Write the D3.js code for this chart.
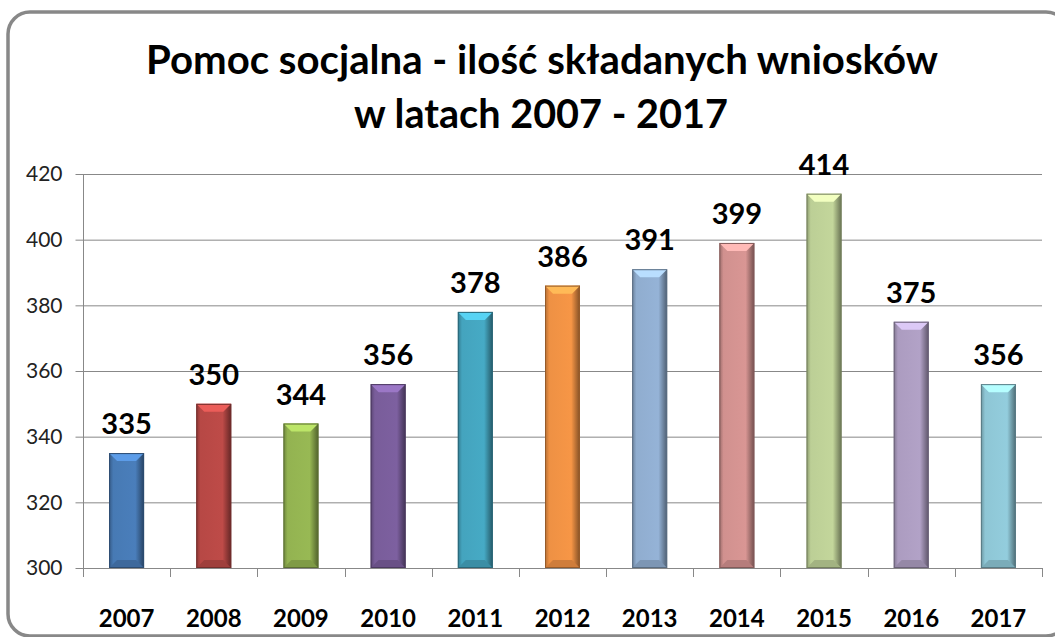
<!DOCTYPE html>
<html><head><meta charset="utf-8">
<script src="https://cdn.jsdelivr.net/npm/d3@7"></script>
<style>body{margin:0;background:#fff}svg{display:block}</style>
</head><body>
<svg id="c" width="1055" height="637"></svg>
<script>
const categories = ["2007","2008","2009","2010","2011","2012","2013","2014","2015","2016","2017"];
const values = [335,350,344,356,378,386,391,399,414,375,356];
const colors = ["#4a7ebb","#be4b48","#98b954","#7d60a0","#46aac5","#f79646","#95b3d7","#d99694","#c3d69b","#b2a2c7","#93cddd"];
const yTicks = [300,320,340,360,380,400,420];
const titleLines = ["Pomoc socjalna - ilość składanych wniosków","w latach 2007 - 2017"];

const svg = d3.select("#c");
const font = "Lato, 'Open Sans', sans-serif";
const m = {left:83, right:1042, top:174, bottom:568};

svg.append("rect").attr("x",8).attr("y",12).attr("width",1060).attr("height",624)
  .attr("rx",22).attr("fill","#fff").attr("stroke","#888").attr("stroke-width",3.5);

const x = d3.scaleBand().domain(categories).range([m.left,m.right]).paddingInner(0).paddingOuter(0);
const y = d3.scaleLinear().domain([300,420]).range([m.bottom,m.top]);

// title
svg.append("text").attr("x",542).attr("y",74).attr("text-anchor","middle")
  .attr("font-family",font).attr("font-weight","bold").attr("font-size",41).attr("fill","#000")
  .attr("textLength",792).attr("lengthAdjust","spacingAndGlyphs").text(titleLines[0]);
svg.append("text").attr("x",541).attr("y",128).attr("text-anchor","middle")
  .attr("font-family",font).attr("font-weight","bold").attr("font-size",41).attr("fill","#000")
  .attr("textLength",374).attr("lengthAdjust","spacingAndGlyphs").text(titleLines[1]);

// gridlines
svg.append("g").selectAll("line").data(yTicks.filter(d=>d>300)).join("line")
  .attr("x1",m.left).attr("x2",m.right).attr("y1",d=>y(d)+0.5).attr("y2",d=>y(d)+0.5)
  .attr("stroke","#888").attr("stroke-width",1);

// y axis
const ya = svg.append("g").attr("transform",`translate(${m.left+0.5},0)`)
  .call(d3.axisLeft(y).tickValues(yTicks).tickSize(8).tickPadding(13));
ya.select(".domain").attr("stroke","#888").attr("d",`M0,${m.top}V${m.bottom+8}`);
ya.selectAll(".tick line").attr("stroke","#888");
ya.selectAll("text").attr("font-family",font).attr("font-size",21).attr("fill","#222");

// x axis
const xa = svg.append("g").attr("transform",`translate(0,${m.bottom+0.5})`)
  .call(d3.axisBottom(x).tickSize(0).tickPadding(41));
xa.select(".domain").attr("stroke","#888").attr("d",`M${m.left},0H${m.right}`);
xa.selectAll("text").attr("font-family",font).attr("font-weight","bold").attr("font-size",24).attr("fill","#000");
svg.append("g").selectAll("line").data(d3.range(categories.length+1)).join("line")
  .attr("x1",i=>Math.round(m.left+i*x.step())+0.5).attr("x2",i=>Math.round(m.left+i*x.step())+0.5)
  .attr("y1",m.bottom).attr("y2",m.bottom+9).attr("stroke","#888");

// gradients
const defs = svg.append("defs");
colors.forEach((c,i)=>{
  const g = defs.append("linearGradient").attr("id","g"+i).attr("x1",0).attr("x2",1).attr("y1",0).attr("y2",0);
  const base = d3.color(c);
  g.append("stop").attr("offset","0%").attr("stop-color",base.darker(0.9));
  g.append("stop").attr("offset","12%").attr("stop-color",base.darker(0.1));
  g.append("stop").attr("offset","75%").attr("stop-color",base);
  g.append("stop").attr("offset","88%").attr("stop-color",base.darker(0.8));
  g.append("stop").attr("offset","100%").attr("stop-color",base.darker(1.8));
});

const bw = 35;
const bars = svg.append("g").selectAll("g").data(categories).join("g");
bars.each(function(cat,i){
  const g = d3.select(this);
  const cx = x(cat)+x.bandwidth()/2;
  const x0 = cx-bw/2, x1 = cx+bw/2, yt = y(values[i]), yb = y(300);
  const base = d3.color(colors[i]);
  g.append("rect").attr("x",x0).attr("y",yt).attr("width",bw).attr("height",yb-yt)
    .attr("fill",`url(#g${i})`);
  const b = 8;
  g.append("path").attr("d",`M${x0},${yt}H${x1}L${x1-b},${yt+b}H${x0+b}Z`).attr("fill",base.brighter(0.6));
  g.append("path").attr("d",`M${x0},${yb}H${x1}L${x1-b},${yb-b}H${x0+b}Z`).attr("fill",base.darker(0.5));
  g.append("rect").attr("x",x0+0.5).attr("y",yt+0.5).attr("width",bw-1).attr("height",yb-yt-1)
    .attr("fill","none").attr("stroke",base.darker(1.4)).attr("stroke-width",1);
  g.append("text").attr("x",cx).attr("y",yt-19).attr("text-anchor","middle")
    .attr("font-family",font).attr("font-weight","bold").attr("font-size",29).attr("fill","#000")
    .text(values[i]);
});
</script>
</body></html>
